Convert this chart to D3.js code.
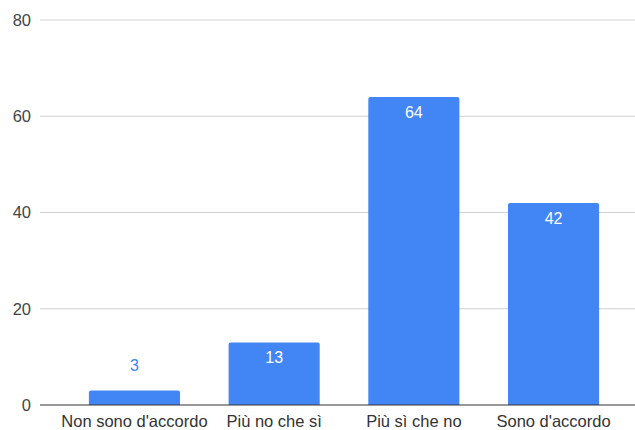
<!DOCTYPE html>
<html>
<head>
<meta charset="utf-8">
<script src="https://cdn.jsdelivr.net/npm/d3@7/dist/d3.min.js"></script>
<style>
  html, body { margin: 0; padding: 0; background: #fff; }
  svg { display: block; font-family: "Liberation Sans", Arial, sans-serif; }
</style>
</head>
<body>
<svg id="chart" width="635" height="430"></svg>
<script>
// Survey answers and their counts
const categories = ["Non sono d'accordo", "Più no che sì", "Più sì che no", "Sono d'accordo"];
const values = [3, 13, 64, 42];
const yTicks = [0, 20, 40, 60, 80];

const svg = d3.select("#chart");
const W = 635;
const font = "'Liberation Sans', Arial, sans-serif";

const y = d3.scaleLinear().domain([0, 80]).range([405, 20]);
const x = d3.scaleBand()
  .domain(categories)
  .range([47, 641])
  .paddingInner(0.348)
  .paddingOuter(0.3);

const barColor = "#4285f4";

// Horizontal gridlines
svg.append("g")
  .selectAll("line")
  .data(yTicks.filter(t => t !== 0))
  .join("line")
  .attr("x1", 40).attr("x2", W)
  .attr("y1", d => y(d)).attr("y2", d => y(d))
  .attr("stroke", "#d0d0d0")
  .attr("stroke-width", 1);

// Y axis labels
const yAxis = d3.axisLeft(y).tickValues(yTicks).tickSize(0).tickPadding(0).tickFormat(d3.format("d"));
const yg = svg.append("g").attr("transform", "translate(31,0)").call(yAxis);
yg.select(".domain").remove();
yg.selectAll("text")
  .attr("fill", "#444")
  .style("font-size", "16.5px")
  .style("font-family", font);

// Bars with slightly rounded tops
const r = 2;
svg.append("g")
  .selectAll("path")
  .data(categories.map((c, i) => ({ c, v: values[i] })))
  .join("path")
  .attr("fill", barColor)
  .attr("d", d => {
    const x0 = x(d.c), x1 = x0 + x.bandwidth();
    const y0 = y(0), y1 = y(d.v);
    return `M${x0},${y0} V${y1 + r} Q${x0},${y1} ${x0 + r},${y1} H${x1 - r} Q${x1},${y1} ${x1},${y1 + r} V${y0} Z`;
  });

// Baseline
svg.append("line")
  .attr("x1", 40).attr("x2", W)
  .attr("y1", y(0)).attr("y2", y(0))
  .attr("stroke", "#333")
  .attr("stroke-width", 1.2);

// X axis labels
const xAxis = d3.axisBottom(x).tickSize(0).tickPadding(0);
const xg = svg.append("g").attr("transform", `translate(0,${y(0) + 10})`).call(xAxis);
xg.select(".domain").remove();
xg.selectAll("text")
  .attr("fill", "#333")
  .attr("dy", "0.71em")
  .style("font-size", "16.5px")
  .style("font-family", font);

// Value labels: inside the bar when it is tall enough, otherwise above it
svg.append("g")
  .selectAll("text")
  .data(categories.map((c, i) => ({ c, v: values[i] })))
  .join("text")
  .attr("x", d => x(d.c) + x.bandwidth() / 2)
  .attr("y", d => {
    const h = y(0) - y(d.v);
    return h > 30 ? y(d.v) + 21 : y(d.v) - 20;
  })
  .attr("text-anchor", "middle")
  .attr("fill", d => (y(0) - y(d.v) > 30 ? "#fff" : barColor))
  .style("font-size", "16px")
  .style("font-family", font)
  .text(d => d.v);
</script>
</body>
</html>
